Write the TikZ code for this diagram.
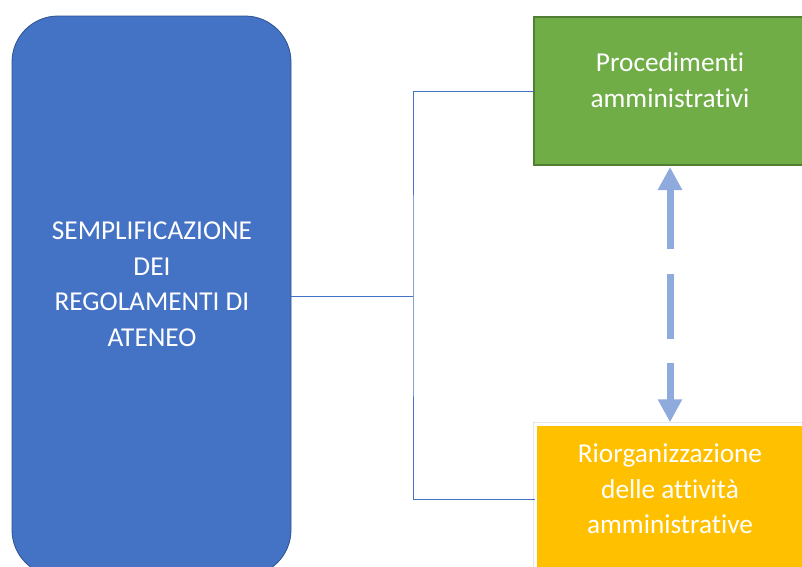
\documentclass[tikz,border=0pt]{standalone}
\usepackage{fontspec}
\setmainfont{Carlito}[Ligatures={NoCommon}]
\usetikzlibrary{arrows.meta}
\definecolor{cblue}{HTML}{4472C4}
\definecolor{cbluedark}{HTML}{2F528F}
\definecolor{cgreen}{HTML}{70AD47}
\definecolor{cgreendark}{HTML}{507E32}
\definecolor{cyellow}{HTML}{FFC000}
\definecolor{carrow}{HTML}{8FAADC}
\begin{document}
\begin{tikzpicture}[x=1pt,y=-1pt,
  box/.style={rectangle, inner sep=0pt, outer sep=0pt},
  txt/.style={text=white, align=center, inner sep=0pt, font=\fontsize{27.3}{35.5}\selectfont},
  link/.style={draw=cblue, line width=1pt},
  duo/.style={draw=carrow, line width=7pt, {Triangle[width=23pt,length=23pt]}-{Triangle[width=23pt,length=23pt]}, dash pattern=on 60pt off 25pt on 65pt off 24pt}
]
\useasboundingbox (0,0) rectangle (802,566);
\clip (0,0) rectangle (802,566);
% main boxes
\node[box, fill=cblue, draw=cbluedark, line width=0.8pt, rounded corners=46pt,
      minimum width=279pt, minimum height=560pt] (B) at (151.5,296) {};
\node[box, fill=cgreen, draw=cgreendark, line width=1.5pt,
      minimum width=280pt, minimum height=148pt, anchor=north west] (G) at (534,17) {};
\node[box, fill=cyellow, draw=white, line width=3.5pt,
      preaction={draw=black!10, line width=5pt},
      minimum width=280pt, minimum height=150pt, anchor=north west] (Y) at (535.25,424.25) {};
% texts
\node[txt] (Bt) at (152,284) {SEMPLIFICAZIONE\\DEI\\REGOLAMENTI DI\\ATENEO};
\node[txt] (Gt) at (670,80) {Procedimenti\\amministrativi};
\node[txt] (Yt) at (670,489) {Riorganizzazione\\delle attività\\amministrative};
% connectors
\coordinate (J) at (413,296);
\draw[link] (B.east) -- (J);
\draw[link] (G.west) -| (J) |- (Y.west);
% double arrow
\draw[duo, shorten <=2pt, shorten >=2pt] (Gt |- G.south) -- (Gt |- Y.north);
\end{tikzpicture}
\end{document}
